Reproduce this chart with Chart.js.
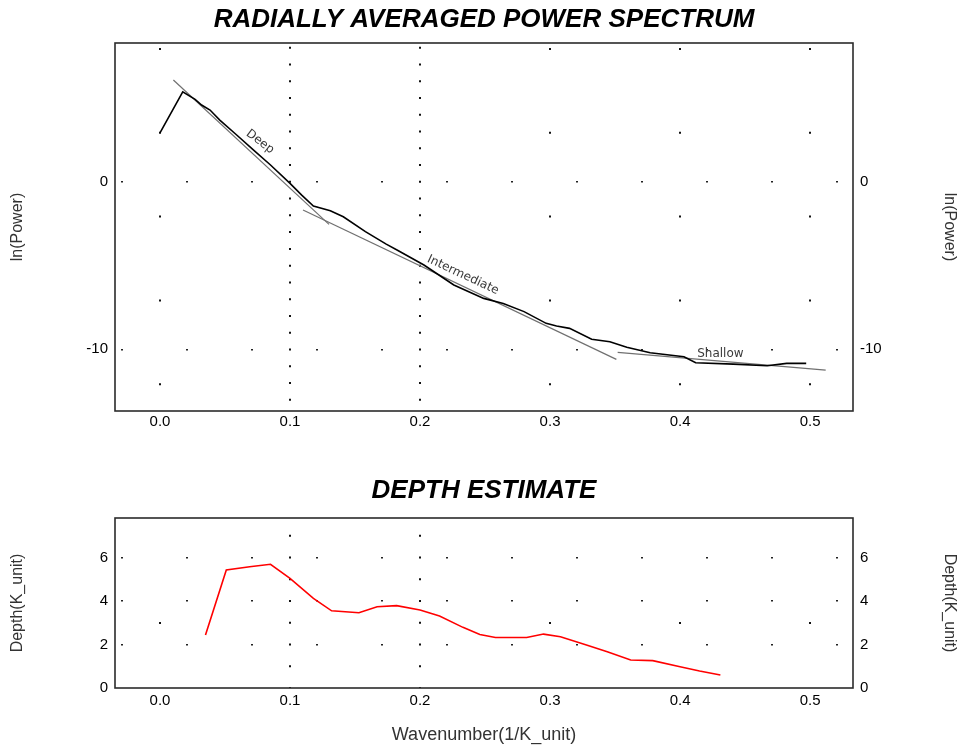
<!DOCTYPE html>
<html>
<head>
<meta charset="utf-8">
<script src="https://cdn.jsdelivr.net/npm/chart.js@4.4.0/dist/chart.umd.min.js"></script>
<style>
  html, body { margin: 0; padding: 0; background: #fff; }
  #wrap { position: relative; width: 960px; height: 748px; }
  #spec { position: absolute; left: 0; top: 0; }
  #depth { position: absolute; left: 0; top: 460px; }
</style>
</head>
<body>
<div id="wrap">
  <canvas id="spec" width="960" height="440"></canvas>
  <canvas id="depth" width="960" height="288"></canvas>
</div>
<script>
// Radially averaged power spectrum: wavenumber (1/K_unit) vs ln(power)
const waveK = [0.0, 0.0175, 0.027, 0.032, 0.0385, 0.046, 0.059, 0.072, 0.085, 0.1, 0.109, 0.118,
  0.131, 0.141, 0.158, 0.174, 0.183, 0.203, 0.226, 0.249, 0.264, 0.280, 0.297, 0.305, 0.315,
  0.332, 0.346, 0.359, 0.377, 0.403, 0.412, 0.441, 0.467, 0.482, 0.497];
const lnPower = [2.92, 5.37, 4.92, 4.58, 4.28, 3.68, 2.79, 1.89, 1.0, -0.1, -0.8, -1.45,
  -1.73, -2.09, -2.98, -3.72, -4.1, -4.97, -6.16, -6.96, -7.26, -7.75, -8.45, -8.61, -8.75,
  -9.4, -9.55, -9.88, -10.2, -10.44, -10.8, -10.88, -10.98, -10.84, -10.84];

// straight-line fits for the three source depths
const deepK = [0.0103, 0.130];
const deepP = [6.07, -2.54];
const interK = [0.110, 0.351];
const interP = [-1.69, -10.6];
const shallowK = [0.352, 0.512];
const shallowP = [-10.18, -11.24];

const segmentNames = ["Deep", "Intermediate", "Shallow"];
const segmentK = [0.077, 0.233, 0.431];
const segmentP = [2.39, -5.57, -10.28];

// depth estimate along the spectrum
const depthK = [0.035, 0.051, 0.069, 0.085, 0.100, 0.118, 0.132, 0.153, 0.167, 0.182, 0.200,
  0.215, 0.233, 0.246, 0.258, 0.282, 0.295, 0.308, 0.328, 0.344, 0.362, 0.379, 0.400, 0.415, 0.431];
const depthVal = [2.44, 5.43, 5.58, 5.69, 5.04, 4.12, 3.55, 3.46, 3.74, 3.79, 3.59,
  3.31, 2.79, 2.46, 2.32, 2.32, 2.48, 2.36, 1.98, 1.67, 1.29, 1.26, 0.98, 0.78, 0.60];

const xTicks = [0, 0.1, 0.2, 0.3, 0.4, 0.5];
const powerTicks = [0, -10];
const depthTicks = [0, 2, 4, 6];

const FONT = "'Liberation Sans', Arial, sans-serif";
const tickFont = { family: FONT, size: 15 };
const tickColor = "#000";

function toPoints(xs, ys) {
  return xs.map((x, i) => ({ x: x, y: ys[i] }));
}

function fixedTicks(values) {
  return (scale) => { scale.ticks = values.map((v) => ({ value: v })); };
}

function isDense(ctx) {
  return ctx.tick && (ctx.tick.value === 0.1 || ctx.tick.value === 0.2);
}

// box around the plot area
const frame = {
  id: "frame",
  afterDatasetsDraw(chart) {
    const { ctx, chartArea: a } = chart;
    ctx.save();
    ctx.strokeStyle = "#2b2b2b";
    ctx.lineWidth = 1.6;
    ctx.strokeRect(a.left, a.top, a.right - a.left, a.bottom - a.top);
    ctx.restore();
  }
};

// names written along the fitted segments
const segmentLabels = {
  id: "segmentLabels",
  afterDatasetsDraw(chart) {
    const { ctx, scales } = chart;
    const angles = [37, 25, 0];
    ctx.save();
    ctx.font = "12px 'DejaVu Sans', Verdana, sans-serif";
    ctx.fillStyle = "#3a3a3a";
    ctx.textAlign = "center";
    ctx.textBaseline = "middle";
    segmentNames.forEach((name, i) => {
      const px = scales.x.getPixelForValue(segmentK[i]);
      const py = scales.y.getPixelForValue(segmentP[i]);
      ctx.save();
      ctx.translate(px, py);
      ctx.rotate(angles[i] * Math.PI / 180);
      ctx.fillText(name, 0, 0);
      ctx.restore();
    });
    ctx.restore();
  }
};

const xRange = { min: -0.0346, max: 0.533 };
const titleFont = { family: FONT, size: 26, weight: "bold", style: "italic" };
const axisTitleFont = { family: FONT, size: 16 };

// ---- upper chart ----
new Chart(document.getElementById("spec"), {
  type: "line",
  data: {
    datasets: [
      { data: toPoints(waveK, lnPower), borderColor: "#000", borderWidth: 1.6 },
      { data: toPoints(deepK, deepP), borderColor: "#707070", borderWidth: 1.2 },
      { data: toPoints(interK, interP), borderColor: "#707070", borderWidth: 1.2 },
      { data: toPoints(shallowK, shallowP), borderColor: "#707070", borderWidth: 1.2 },
    ],
  },
  options: {
    responsive: false,
    animation: false,
    layout: { padding: { left: 8 } },
    elements: { point: { radius: 0 }, line: { tension: 0 } },
    plugins: {
      legend: { display: false },
      tooltip: { enabled: false },
      title: {
        display: true,
        text: "RADIALLY AVERAGED POWER SPECTRUM",
        color: "#000",
        font: titleFont,
        padding: { top: 4.4, bottom: 7.4 },
      },
    },
    scales: {
      x: {
        type: "linear",
        min: xRange.min,
        max: xRange.max,
        afterBuildTicks: fixedTicks(xTicks),
        afterFit: (s) => { s.height = 29; },
        ticks: { callback: (v) => v.toFixed(1), font: tickFont, color: tickColor, padding: 2, maxRotation: 0, autoSkip: false },
        grid: { drawTicks: false, lineWidth: 2, color: "#111" },
        border: {
          display: false,
          dash: (ctx) => isDense(ctx) ? [2, 14.76] : [2, 81.8],
          dashOffset: (ctx) => isDense(ctx) ? 13 : 78.8,
        },
      },
      y: {
        position: "left",
        min: -13.68,
        max: 8.28,
        afterBuildTicks: fixedTicks(powerTicks),
        afterFit: (s) => { s.width = 107; },
        ticks: { font: tickFont, color: tickColor, padding: 7 },
        grid: { drawTicks: false, lineWidth: 1.6, color: "#222" },
        border: { display: false, dash: [2, 63], dashOffset: 59 },
        title: { display: true, text: "ln(Power)", color: "#333", font: axisTitleFont, padding: { top: 0 } },
      },
      y2: {
        position: "right",
        min: -13.68,
        max: 8.28,
        afterBuildTicks: fixedTicks(powerTicks),
        afterFit: (s) => { s.width = 107; },
        ticks: { font: tickFont, color: tickColor, padding: 7 },
        grid: { display: false, drawTicks: false },
        border: { display: false },
        title: { display: true, text: "ln(Power)", color: "#333", font: axisTitleFont, padding: { top: 1 } },
      },
    },
  },
  plugins: [frame, segmentLabels],
});

// ---- lower chart ----
new Chart(document.getElementById("depth"), {
  type: "line",
  data: {
    datasets: [
      { data: toPoints(depthK, depthVal), borderColor: "#ff0000", borderWidth: 1.6 },
    ],
  },
  options: {
    responsive: false,
    animation: false,
    layout: { padding: { left: 8 } },
    elements: { point: { radius: 0 }, line: { tension: 0 } },
    plugins: {
      legend: { display: false },
      tooltip: { enabled: false },
      title: {
        display: true,
        text: "DEPTH ESTIMATE",
        color: "#000",
        font: titleFont,
        padding: { top: 15.4, bottom: 11.4 },
      },
    },
    scales: {
      x: {
        type: "linear",
        min: xRange.min,
        max: xRange.max,
        afterBuildTicks: fixedTicks(xTicks),
        afterFit: (s) => { s.height = 60; },
        ticks: { callback: (v) => v.toFixed(1), font: tickFont, color: tickColor, padding: 4, maxRotation: 0, autoSkip: false },
        grid: { drawTicks: false, lineWidth: 2, color: "#111" },
        border: {
          display: false,
          dash: (ctx) => isDense(ctx) ? [2, 19.75] : [2, 400],
          dashOffset: (ctx) => isDense(ctx) ? 5 : 298,
        },
        title: { display: true, text: "Wavenumber(1/K_unit)", color: "#333", font: { family: FONT, size: 18 }, padding: { top: 0, bottom: 2 } },
      },
      y: {
        position: "left",
        min: 0,
        max: 7.82,
        afterBuildTicks: fixedTicks(depthTicks),
        afterFit: (s) => { s.width = 107; },
        ticks: { font: tickFont, color: tickColor, padding: 7 },
        grid: { drawTicks: false, lineWidth: 1.6, color: (ctx) => (ctx.tick && ctx.tick.value === 0) ? "rgba(0,0,0,0)" : "#222" },
        border: { display: false, dash: [2, 63], dashOffset: 59 },
        title: { display: true, text: "Depth(K_unit)", color: "#333", font: axisTitleFont, padding: { top: 0 } },
      },
      y2: {
        position: "right",
        min: 0,
        max: 7.82,
        afterBuildTicks: fixedTicks(depthTicks),
        afterFit: (s) => { s.width = 107; },
        ticks: { font: tickFont, color: tickColor, padding: 7 },
        grid: { display: false, drawTicks: false },
        border: { display: false },
        title: { display: true, text: "Depth(K_unit)", color: "#333", font: axisTitleFont, padding: { top: 1 } },
      },
    },
  },
  plugins: [frame],
});
</script>
</body>
</html>
